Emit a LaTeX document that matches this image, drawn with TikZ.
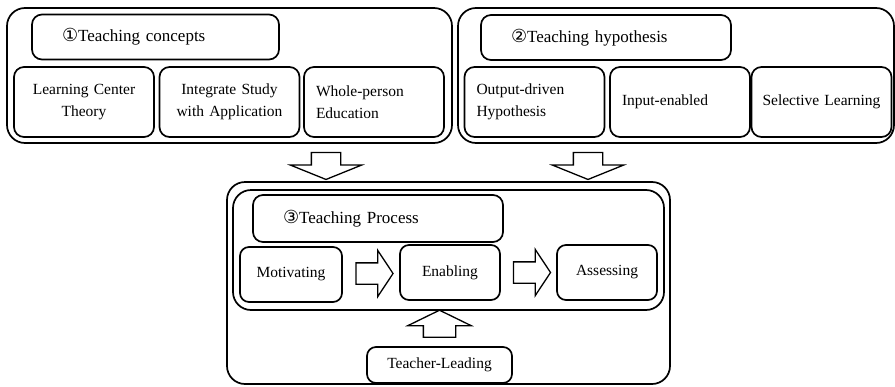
\documentclass[tikz,border=0pt]{standalone}
\usepackage{fontspec}
\setmainfont{Liberation Serif}
\newfontfamily\circfont{DejaVu Sans}
\usetikzlibrary{shapes.arrows, calc}
\newcommand{\cnum}[1]{{\circfont\fontsize{18}{18}\selectfont #1}}

\begin{document}
\begin{tikzpicture}[x=1pt, y=-1pt, line width=1.7pt,
  groupn/.style={draw, rounded corners=18pt, inner sep=0pt},
  headn/.style={draw, rounded corners=10pt, minimum height=45pt, inner xsep=30pt,
    text width=190pt, align=left, font=\fontsize{17}{20}\selectfont},
  itemn/.style={draw, rounded corners=10pt, minimum height=70pt, inner xsep=12pt,
    text width=116pt, font=\fontsize{15.5}{22}\selectfont},
  stepn/.style={draw, rounded corners=9pt, minimum width=100pt, minimum height=55pt,
    inner sep=2pt, font=\fontsize{15.5}{18}\selectfont},
  blockarr/.style={single arrow, draw, line width=1.3pt, inner sep=0pt}
]
  \useasboundingbox (0,0) rectangle (895,386);
  % teaching concepts
  \node[groupn, minimum width=445pt, minimum height=135pt] (conc) at (229.5,75.5) {};
  \node[headn, text width=187pt] (conct) at (155.5,37) {\cnum{①}Teaching concepts};
  \node[itemn, align=center] (lct) at (84,102)    {Learning Center\\Theory};
  \node[itemn, align=center] (isa) at (229.5,102) {Integrate Study\\with Application};
  \node[itemn, align=left]   (wpe) at (374,102)   {Whole-person\\Education};
  % teaching hypothesis
  \node[groupn, minimum width=436pt, minimum height=135pt] (hyp) at (676,75.5) {};
  \node[headn] (hypt) at (606,37.5) {\cnum{②}Teaching hypothesis};
  \node[itemn, align=left] (odh) at (534.5,102) {Output-driven\\Hypothesis};
  \node[itemn, align=left] (ie)  at (680,102)   {Input-enabled};
  \node[itemn, align=left, inner xsep=11pt, text width=118pt] (sl) at (821.5,102) {Selective Learning};
  % teaching process
  \node[groupn, minimum width=443pt, minimum height=202pt] (proc) at (448.5,283) {};
  \node[groupn, minimum width=431pt, minimum height=120pt] (panel) at (448.5,250) {};
  \node[headn, minimum height=47pt] (proct) at (378,218.5) {\cnum{③}Teaching Process};
  \node[stepn, minimum width=102pt] (mot) at (291,274.5) {Motivating};
  \node[stepn] (enab) at (450,272.5) {Enabling};
  \node[stepn] (ass)  at (607,272.5) {Assessing};
  \node[stepn, minimum width=145pt, minimum height=36pt] (tl) at (439.5,365) {Teacher-Leading};
  % block arrows
  \node[blockarr, rotate=-90, minimum height=27pt, inner ysep=14pt,
    single arrow head extend=21pt, single arrow tip angle=136] (dn1) at (326,163) {};
  \node[blockarr, rotate=-90, minimum height=27pt, inner ysep=14pt,
    single arrow head extend=21pt, single arrow tip angle=136] (dn2) at (588,163) {};
  \node[blockarr, minimum height=37pt, inner ysep=10pt,
    single arrow head extend=12.5pt, single arrow tip angle=113] (rt1) at ($(mot.east)!0.5!(enab.west)$) {};
  \node[blockarr, minimum height=37pt, inner ysep=10pt,
    single arrow head extend=12.5pt, single arrow tip angle=113] (rt2) at ($(enab.east)!0.5!(ass.west)$) {};
  \node[blockarr, rotate=90, minimum height=27pt, inner ysep=15.5pt,
    single arrow head extend=15.5pt, single arrow tip angle=128] (up) at ($(tl.north)+(0,-18.5)$) {};
\end{tikzpicture}
\end{document}
